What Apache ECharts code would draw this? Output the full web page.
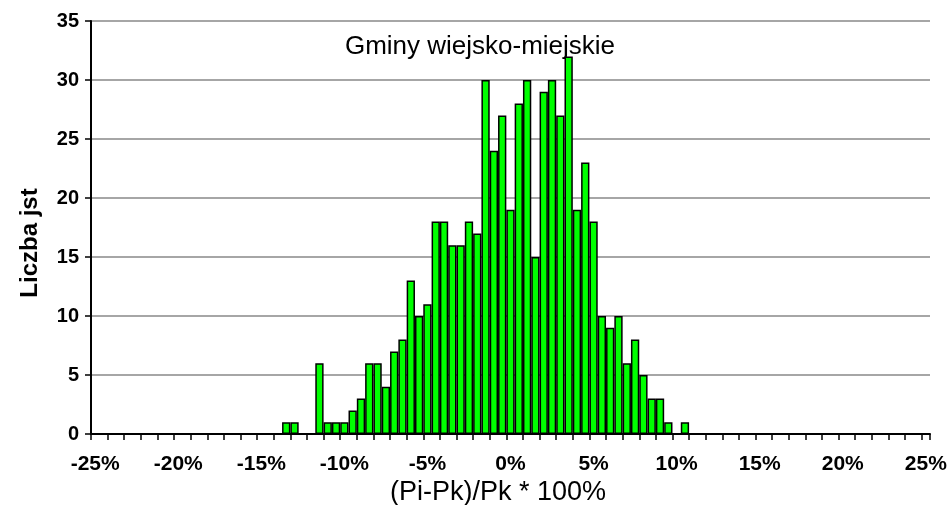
<!DOCTYPE html>
<html>
<head>
<meta charset="utf-8">
<script src="https://cdn.jsdelivr.net/npm/echarts@6/dist/echarts.min.js"></script>
<style>
  html, body { margin: 0; padding: 0; background: #fff; }
  #chart { width: 951px; height: 505px; }
</style>
</head>
<body>
<div id="chart"></div>
<script>
// przedziały (Pi-Pk)/Pk w %, co 0.5
const bins = [
  -25, -24.5, -24, -23.5, -23, -22.5, -22, -21.5, -21, -20.5,
  -20, -19.5, -19, -18.5, -18, -17.5, -17, -16.5, -16, -15.5,
  -15, -14.5, -14, -13.5, -13, -12.5, -12, -11.5, -11, -10.5,
  -10, -9.5, -9, -8.5, -8, -7.5, -7, -6.5, -6, -5.5,
  -5, -4.5, -4, -3.5, -3, -2.5, -2, -1.5, -1, -0.5,
  0, 0.5, 1, 1.5, 2, 2.5, 3, 3.5, 4, 4.5,
  5, 5.5, 6, 6.5, 7, 7.5, 8, 8.5, 9, 9.5,
  10, 10.5, 11, 11.5, 12, 12.5, 13, 13.5, 14, 14.5,
  15, 15.5, 16, 16.5, 17, 17.5, 18, 18.5, 19, 19.5,
  20, 20.5, 21, 21.5, 22, 22.5, 23, 23.5, 24, 24.5,
  25
];

// liczba jst w przedziale
const counts = [
  0, 0, 0, 0, 0, 0, 0, 0, 0, 0,
  0, 0, 0, 0, 0, 0, 0, 0, 0, 0,
  0, 0, 0, 1, 1, 0, 0, 6, 1, 1,
  1, 2, 3, 6, 6, 4, 7, 8, 13, 10,
  11, 18, 18, 16, 16, 18, 17, 30, 24, 27,
  19, 28, 30, 15, 29, 30, 27, 32, 19, 23,
  18, 10, 9, 10, 6, 8, 5, 3, 3, 1,
  0, 1, 0, 0, 0, 0, 0, 0, 0, 0,
  0, 0, 0, 0, 0, 0, 0, 0, 0, 0,
  0, 0, 0, 0, 0, 0, 0, 0, 0, 0,
  0
];

const yTicks = [0, 5, 10, 15, 20, 25, 30, 35];

const font = "'Liberation Sans', Arial, Helvetica, sans-serif";

const chart = echarts.init(document.getElementById('chart'));

chart.setOption({
  animation: false,
  backgroundColor: '#fff',
  grid: { left: 91, right: 21, top: 21, bottom: 71 },
  xAxis: {
    type: 'category',
    data: bins,
    boundaryGap: true,
    axisLine: { show: true, lineStyle: { color: '#000', width: 2 } },
    axisTick: { show: true, inside: false, interval: 1, length: 6, lineStyle: { color: '#000', width: 1.5 } },
    axisLabel: {
      interval: 9,
      margin: 20,
      color: '#000',
      fontFamily: font,
      fontWeight: 'bold',
      fontSize: 21,
      formatter: v => v + '%'
    },
    splitLine: { show: false }
  },
  yAxis: {
    type: 'value',
    min: yTicks[0],
    max: yTicks[yTicks.length - 1],
    interval: 5,
    axisLine: { show: true, lineStyle: { color: '#000', width: 2 } },
    axisTick: { show: true, inside: false, length: 6, lineStyle: { color: '#000', width: 1.5 } },
    axisLabel: {
      margin: 12,
      color: '#000',
      fontFamily: font,
      fontWeight: 'bold',
      fontSize: 20
    },
    splitLine: { lineStyle: { color: '#a6a6a6', width: 2 } }
  },
  series: [{
    type: 'bar',
    data: counts,
    barCategoryGap: '0%',
    barWidth: '100%',
    itemStyle: { color: '#00ff00', borderColor: '#000', borderWidth: 1.5 }
  }],
  graphic: [
    {
      type: 'text',
      x: 480, y: 47,
      style: {
        text: 'Gminy wiejsko-miejskie',
        font: '26px ' + font,
        fill: '#000',
        align: 'center',
        verticalAlign: 'middle'
      }
    },
    {
      type: 'text',
      x: 498, y: 493,
      style: {
        text: '(Pi-Pk)/Pk * 100%',
        font: '27px ' + font,
        fill: '#000',
        align: 'center',
        verticalAlign: 'middle'
      }
    },
    {
      type: 'text',
      x: 30, y: 243,
      rotation: Math.PI / 2,
      style: {
        text: 'Liczba jst',
        font: 'bold 24px ' + font,
        fill: '#000',
        align: 'center',
        verticalAlign: 'middle'
      }
    }
  ]
});
</script>
</body>
</html>
